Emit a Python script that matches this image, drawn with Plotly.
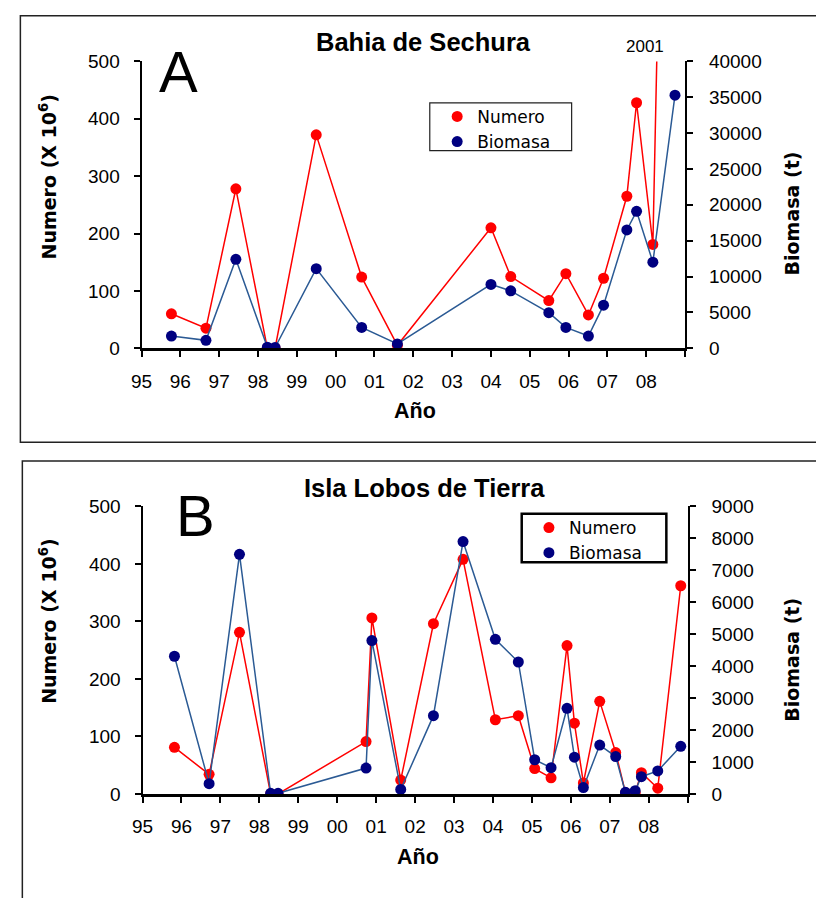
import plotly.graph_objects as go

# ---------------- data ----------------
anios_eje = list(range(1995, 2009))
etiquetas_eje = [f"{a % 100:02d}" for a in anios_eje]
anio_fin = 2009

# Bahia de Sechura
anio_a = [1995.77, 1996.66, 1997.43, 1998.24, 1998.44, 1999.50, 2000.67, 2001.59,
          2004.00, 2004.51, 2005.49, 2005.93, 2006.51, 2006.90, 2007.50, 2007.75,
          2008.17, 2008.74]
numero_a = [60, 35, 278, 0, 0, 372, 124, 5,
            210, 125, 83, 130, 58, 122, 265, 428,
            181, 2001]
biomasa_a = [1700, 1100, 12400, 150, 100, 11100, 2900, 600,
             8900, 8000, 4950, 2900, 1700, 6000, 16500, 19100,
             12000, 35300]

# Isla Lobos de Tierra
anio_b = [1995.82, 1996.71, 1997.49, 1998.29, 1998.48, 2000.74, 2000.89, 2001.63,
          2002.47, 2003.23, 2004.06, 2004.65, 2005.07, 2005.49, 2005.90, 2006.09,
          2006.32, 2006.74, 2007.15, 2007.40, 2007.65, 2007.81, 2008.23, 2008.82]
numero_b = [81, 34, 281, 0, 0, 91, 306, 24,
            296, 408, 129, 136, 44, 28, 258, 123,
            19, 161, 72, 2, 2, 37, 10, 362]
biomasa_b = [4310, 320, 7500, 20, 20, 810, 4800, 140,
             2450, 7900, 4840, 4130, 1070, 820, 2680, 1150,
             200, 1530, 1170, 50, 100, 540, 720, 1490]

# ---------------- style ----------------
W, H = 816, 898
ROJO = "#FF0000"
AZUL_MARCA = "#000080"
AZUL_LINEA = "#2B5A94"
TICK_FONT = dict(family="Liberation Sans, Arial, sans-serif", size=19, color="black")


def px(x):
    return x / W


def py(y):
    return 1 - y / H


fig = go.Figure()


def add_series(x, y, xa, ya, color_line, color_mark, name, legend):
    fig.add_trace(go.Scatter(
        x=x, y=y, xaxis=xa, yaxis=ya, mode="lines",
        line=dict(color=color_line, width=1.5), showlegend=False, hoverinfo="skip"))
    fig.add_trace(go.Scatter(
        x=x, y=y, xaxis=xa, yaxis=ya, mode="markers", name=name,
        marker=dict(color=color_mark, size=11), legend=legend,
        legendgroup=name + legend))


add_series(anio_a, numero_a, "x", "y", ROJO, ROJO, "Numero", "legend")
add_series(anio_a, biomasa_a, "x", "y2", AZUL_LINEA, AZUL_MARCA, "Biomasa", "legend")
add_series(anio_b, numero_b, "x2", "y3", ROJO, ROJO, "Numero", "legend2")
add_series(anio_b, biomasa_b, "x2", "y4", AZUL_LINEA, AZUL_MARCA, "Biomasa", "legend2")

xaxis_common = dict(
    range=[anios_eje[0], anio_fin], tickmode="array", tickvals=anios_eje,
    ticktext=etiquetas_eje, ticks="outside", ticklen=6, tickwidth=1.5, tickcolor="black",
    minor=dict(dtick=1, tick0=anios_eje[0], ticks="outside", ticklen=6, tickwidth=1.5,
               tickcolor="black", showgrid=False),
    showline=True, linewidth=2.5, linecolor="black", showgrid=False, zeroline=False,
    tickfont=TICK_FONT, ticklabelstandoff=8, fixedrange=True,
)
yleft_common = dict(
    range=[0, 500], dtick=100, ticks="outside", ticklen=6, tickwidth=1.5,
    tickcolor="black", showline=True, linewidth=2, linecolor="black",
    showgrid=False, zeroline=False, tickfont=TICK_FONT, ticklabelstandoff=10,
)
yright_common = dict(
    side="right", ticks="outside", ticklen=6, tickwidth=1.5, tickcolor="black",
    showline=True, linewidth=2, linecolor="black", showgrid=False, zeroline=False,
    tickfont=TICK_FONT, ticklabelstandoff=12, tickformat="d",
)
# inner half of the right-hand tick marks (they cross the axis line)
yright_inner = dict(
    side="right", ticks="inside", ticklen=6, tickwidth=1.5, tickcolor="black",
    showline=False, showgrid=False, zeroline=False, showticklabels=False,
)

dom_xa = [px(132.3), px(683.3)]
dom_ya = [py(346.3), py(52.7)]
dom_xb = [px(133.3), px(686.0)]
dom_yb = [py(802.7), py(508.3)]

legend_font = dict(family="DejaVu Sans, Verdana, sans-serif", size=17, color="black")

fig.update_layout(
    width=W, height=H, margin=dict(l=0, r=0, t=0, b=0),
    paper_bgcolor="white", plot_bgcolor="white",
    xaxis=dict(domain=dom_xa, anchor="y", **xaxis_common),
    yaxis=dict(domain=dom_ya, anchor="x", **yleft_common),
    yaxis2=dict(domain=dom_ya, anchor="x", overlaying="y", range=[0, 40000], dtick=5000,
                **yright_common),
    yaxis5=dict(domain=dom_ya, anchor="x", overlaying="y", range=[0, 40000], dtick=5000,
                **yright_inner),
    xaxis2=dict(domain=dom_xb, anchor="y3", **xaxis_common),
    yaxis3=dict(domain=dom_yb, anchor="x2", **yleft_common),
    yaxis4=dict(domain=dom_yb, anchor="x2", overlaying="y3", range=[0, 9000], dtick=1000,
                **yright_common),
    yaxis6=dict(domain=dom_yb, anchor="x2", overlaying="y3", range=[0, 9000], dtick=1000,
                **yright_inner),
    legend=dict(x=px(432), y=py(91), xanchor="left", yanchor="top",
                bgcolor="rgba(0,0,0,0)", borderwidth=0, tracegroupgap=0, font=legend_font),
    legend2=dict(x=px(525), y=py(512), xanchor="left", yanchor="top",
                 bgcolor="rgba(0,0,0,0)", borderwidth=0, tracegroupgap=0, font=legend_font),
    showlegend=True,
)

shapes = [
    # panel frames
    dict(type="rect", xref="paper", yref="paper", x0=px(9.5), x1=1.02, y0=py(442.5), y1=py(6),
         line=dict(color="#222", width=1.5), layer="below"),
    dict(type="rect", xref="paper", yref="paper", x0=px(11.5), x1=1.02, y0=-0.03, y1=py(461.7),
         line=dict(color="#222", width=1.5), layer="below"),
    # legend boxes
    dict(type="rect", xref="paper", yref="paper", x0=px(424.5), x1=px(568.3), y0=py(144), y1=py(95),
         line=dict(color="#222", width=1.2), fillcolor="white", layer="above"),
    dict(type="rect", xref="paper", yref="paper", x0=px(517.7), x1=px(664.3), y0=py(565.5), y1=py(515.7),
         line=dict(color="black", width=2.5), fillcolor="white", layer="above"),
]
fig.update_layout(shapes=shapes)


def note(text, x, y, font, angle=0):
    fig.add_annotation(text=text, x=px(x), y=py(y), xref="paper", yref="paper",
                       showarrow=False, font=font, textangle=angle,
                       xanchor="center", yanchor="middle")


bold_title = dict(family="Liberation Sans, Arial, sans-serif", size=25.5, color="black", weight="bold")
note("Bahia de Sechura", 418, 33, bold_title)
note("Isla Lobos de Tierra", 419, 489.5, bold_title)
panel_font = dict(family="Liberation Sans, Arial, sans-serif", size=58, color="black")
note("A", 170, 63, panel_font)
note("B", 187, 518, panel_font)
ytitle = dict(family="DejaVu Sans, Verdana, sans-serif", size=19, color="black", weight="bold")
note("Numero (X 10<sup>6</sup>)", 38, 170, ytitle, -90)
note("Biomasa (t)", 792, 208, ytitle, -90)
note("Numero (X 10<sup>6</sup>)", 38, 625, ytitle, -90)
note("Biomasa (t)", 792, 665, ytitle, -90)
xtitle = dict(family="Liberation Sans, Arial, sans-serif", size=21.5, color="black", weight="bold")
note("Año", 410, 411, xtitle)
note("Año", 413, 867, xtitle)
# value of the off-scale Numero point
fig.add_annotation(text=str(numero_a[-1]), x=px(643), y=py(37), xref="paper", yref="paper",
                   showarrow=False, xanchor="center", yanchor="middle",
                   font=dict(family="Liberation Sans, Arial, sans-serif", size=17, color="black"))

fig.write_html("out.html")
